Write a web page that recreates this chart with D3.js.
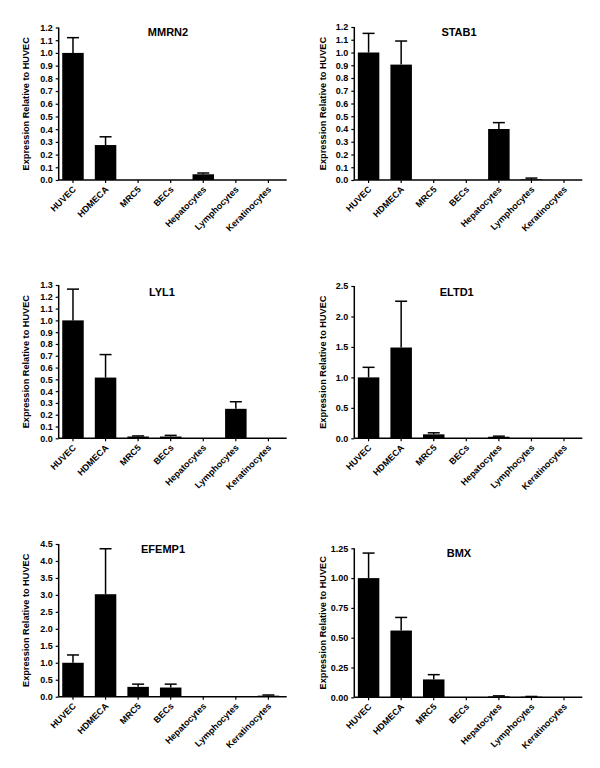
<!DOCTYPE html>
<html><head><meta charset="utf-8">
<script src="https://d3js.org/d3.v7.min.js"></script>
<style>
body{margin:0;background:#fff;}
svg text{font-family:"Liberation Sans",Arial,sans-serif;font-weight:bold;fill:#000;}
</style></head>
<body>
<svg id="c" width="600" height="768"></svg>
<script>
const categories = ["HUVEC","HDMECA","MRC5","BECs","Hepatocytes","Lymphocytes","Keratinocytes"];

const mmrn2Values = [1.0, 0.275, 0, 0, 0.045, 0, 0];
const mmrn2Upper  = [1.12, 0.34, 0, 0, 0.055, 0, 0];
const mmrn2Ticks  = ["0.0","0.1","0.2","0.3","0.4","0.5","0.6","0.7","0.8","0.9","1.0","1.1","1.2"];

const stab1Values = [1.0, 0.905, 0, 0, 0.40, 0.005, 0];
const stab1Upper  = [1.15, 1.09, 0, 0, 0.45, 0.015, 0];
const stab1Ticks  = ["0.0","0.1","0.2","0.3","0.4","0.5","0.6","0.7","0.8","0.9","1.0","1.1","1.2"];

const lyl1Values = [1.0, 0.515, 0.015, 0.015, 0, 0.25, 0];
const lyl1Upper  = [1.265, 0.71, 0.02, 0.025, 0, 0.31, 0];
const lyl1Ticks  = ["0.0","0.1","0.2","0.3","0.4","0.5","0.6","0.7","0.8","0.9","1.0","1.1","1.2","1.3"];

const eltd1Values = [1.0, 1.49, 0.065, 0, 0.025, 0, 0];
const eltd1Upper  = [1.165, 2.25, 0.09, 0, 0.035, 0, 0];
const eltd1Ticks  = ["0.0","0.5","1.0","1.5","2.0","2.5"];

const efemp1Values = [1.0, 3.02, 0.29, 0.27, 0, 0, 0.03];
const efemp1Upper  = [1.23, 4.36, 0.37, 0.37, 0, 0, 0.05];
const efemp1Ticks  = ["0.0","0.5","1.0","1.5","2.0","2.5","3.0","3.5","4.0","4.5"];

const bmxValues = [1.0, 0.56, 0.15, 0, 0.008, 0.005, 0];
const bmxUpper  = [1.21, 0.67, 0.19, 0, 0.012, 0.007, 0];
const bmxTicks  = ["0.00","0.25","0.50","0.75","1.00","1.25"];

const panels = [
  {title:"MMRN2", values:mmrn2Values, upper:mmrn2Upper, ticks:mmrn2Ticks, ax:58.7, yTop:27.5, y0:180, tx:168, ty:36},
  {title:"STAB1", values:stab1Values, upper:stab1Upper, ticks:stab1Ticks, ax:354.3, yTop:27, y0:180, tx:459, ty:36},
  {title:"LYL1", values:lyl1Values, upper:lyl1Upper, ticks:lyl1Ticks, ax:58.7, yTop:285, y0:438.3, tx:162, ty:296},
  {title:"ELTD1", values:eltd1Values, upper:eltd1Upper, ticks:eltd1Ticks, ax:354.3, yTop:286, y0:438.3, tx:456.7, ty:296},
  {title:"EFEMP1", values:efemp1Values, upper:efemp1Upper, ticks:efemp1Ticks, ax:58.7, yTop:544, y0:696.7, tx:163, ty:553},
  {title:"BMX", values:bmxValues, upper:bmxUpper, ticks:bmxTicks, ax:354.3, yTop:548.3, y0:697.3, tx:459, ty:557}
];

const svg = d3.select("#c");
const axisW = 228;
const FONT = '"Liberation Sans",Arial,sans-serif';

panels.forEach(p => {
  const g = svg.append("g");
  const tickVals = p.ticks.map(Number);
  const maxV = tickVals[tickVals.length-1];
  const y = d3.scaleLinear().domain([0, maxV]).range([p.y0, p.yTop]);
  const x = d3.scaleBand().domain(categories).range([p.ax-2, p.ax+226]).paddingInner(0.34).paddingOuter(0.17);

  // bars
  g.selectAll("rect").data(categories).join("rect")
    .attr("x", d => x(d))
    .attr("width", x.bandwidth())
    .attr("y", (d,i) => y(p.values[i]))
    .attr("height", (d,i) => p.y0 - y(p.values[i]))
    .attr("fill", "#000");

  // error bars
  categories.forEach((c,i) => {
    if (p.upper[i] <= p.values[i]) return;
    const cx = x(c) + x.bandwidth()/2;
    g.append("line").attr("x1",cx).attr("x2",cx)
      .attr("y1",y(p.values[i])).attr("y2",y(p.upper[i]))
      .attr("stroke","#000").attr("stroke-width",1.5);
    g.append("line").attr("x1",cx-6).attr("x2",cx+6)
      .attr("y1",y(p.upper[i])).attr("y2",y(p.upper[i]))
      .attr("stroke","#000").attr("stroke-width",1.5);
  });

  // y axis
  const yAxis = d3.axisLeft(y).tickValues(tickVals).tickFormat((d,i)=>p.ticks[i]).tickSize(3).tickPadding(3);
  const ya = g.append("g").attr("transform",`translate(${p.ax},0)`).call(yAxis);
  ya.select(".domain").remove();
  ya.selectAll(".tick line").attr("stroke-width",1.2);
  ya.selectAll("text").attr("font-size","9px").style("font-family",FONT).style("font-weight","bold");
  g.append("line").attr("x1",p.ax).attr("x2",p.ax).attr("y1",p.yTop).attr("y2",p.y0)
    .attr("stroke","#000").attr("stroke-width",1.5);

  // x axis
  g.append("line").attr("x1",p.ax).attr("x2",p.ax+axisW).attr("y1",p.y0).attr("y2",p.y0)
    .attr("stroke","#000").attr("stroke-width",1.5);
  const xAxis = d3.axisBottom(x).tickSize(3).tickSizeOuter(0).tickFormat("");
  const xa = g.append("g").attr("transform",`translate(0,${p.y0})`).call(xAxis);
  xa.select(".domain").remove();
  xa.selectAll(".tick line").attr("stroke-width",1.2);
  categories.forEach(c => {
    const cx = x(c) + x.bandwidth()/2;
    g.append("text")
      .attr("text-anchor","end")
      .attr("font-size","9px")
      .attr("transform",`translate(${cx+3.5},${p.y0+10}) rotate(-45)`)
      .text(c);
  });

  // title
  g.append("text").attr("x",p.tx).attr("y",p.ty).attr("text-anchor","middle")
    .attr("font-size","11px").text(p.title);

  // y label
  const ly = (p.yTop + p.y0)/2;
  const lx = p.ax < 200 ? 28.5 : 326;
  g.append("text").attr("transform",`translate(${lx},${ly}) rotate(-90)`)
    .attr("text-anchor","middle").attr("font-size","9.2px").text("Expression Relative to HUVEC");
});
</script>
</body></html>
